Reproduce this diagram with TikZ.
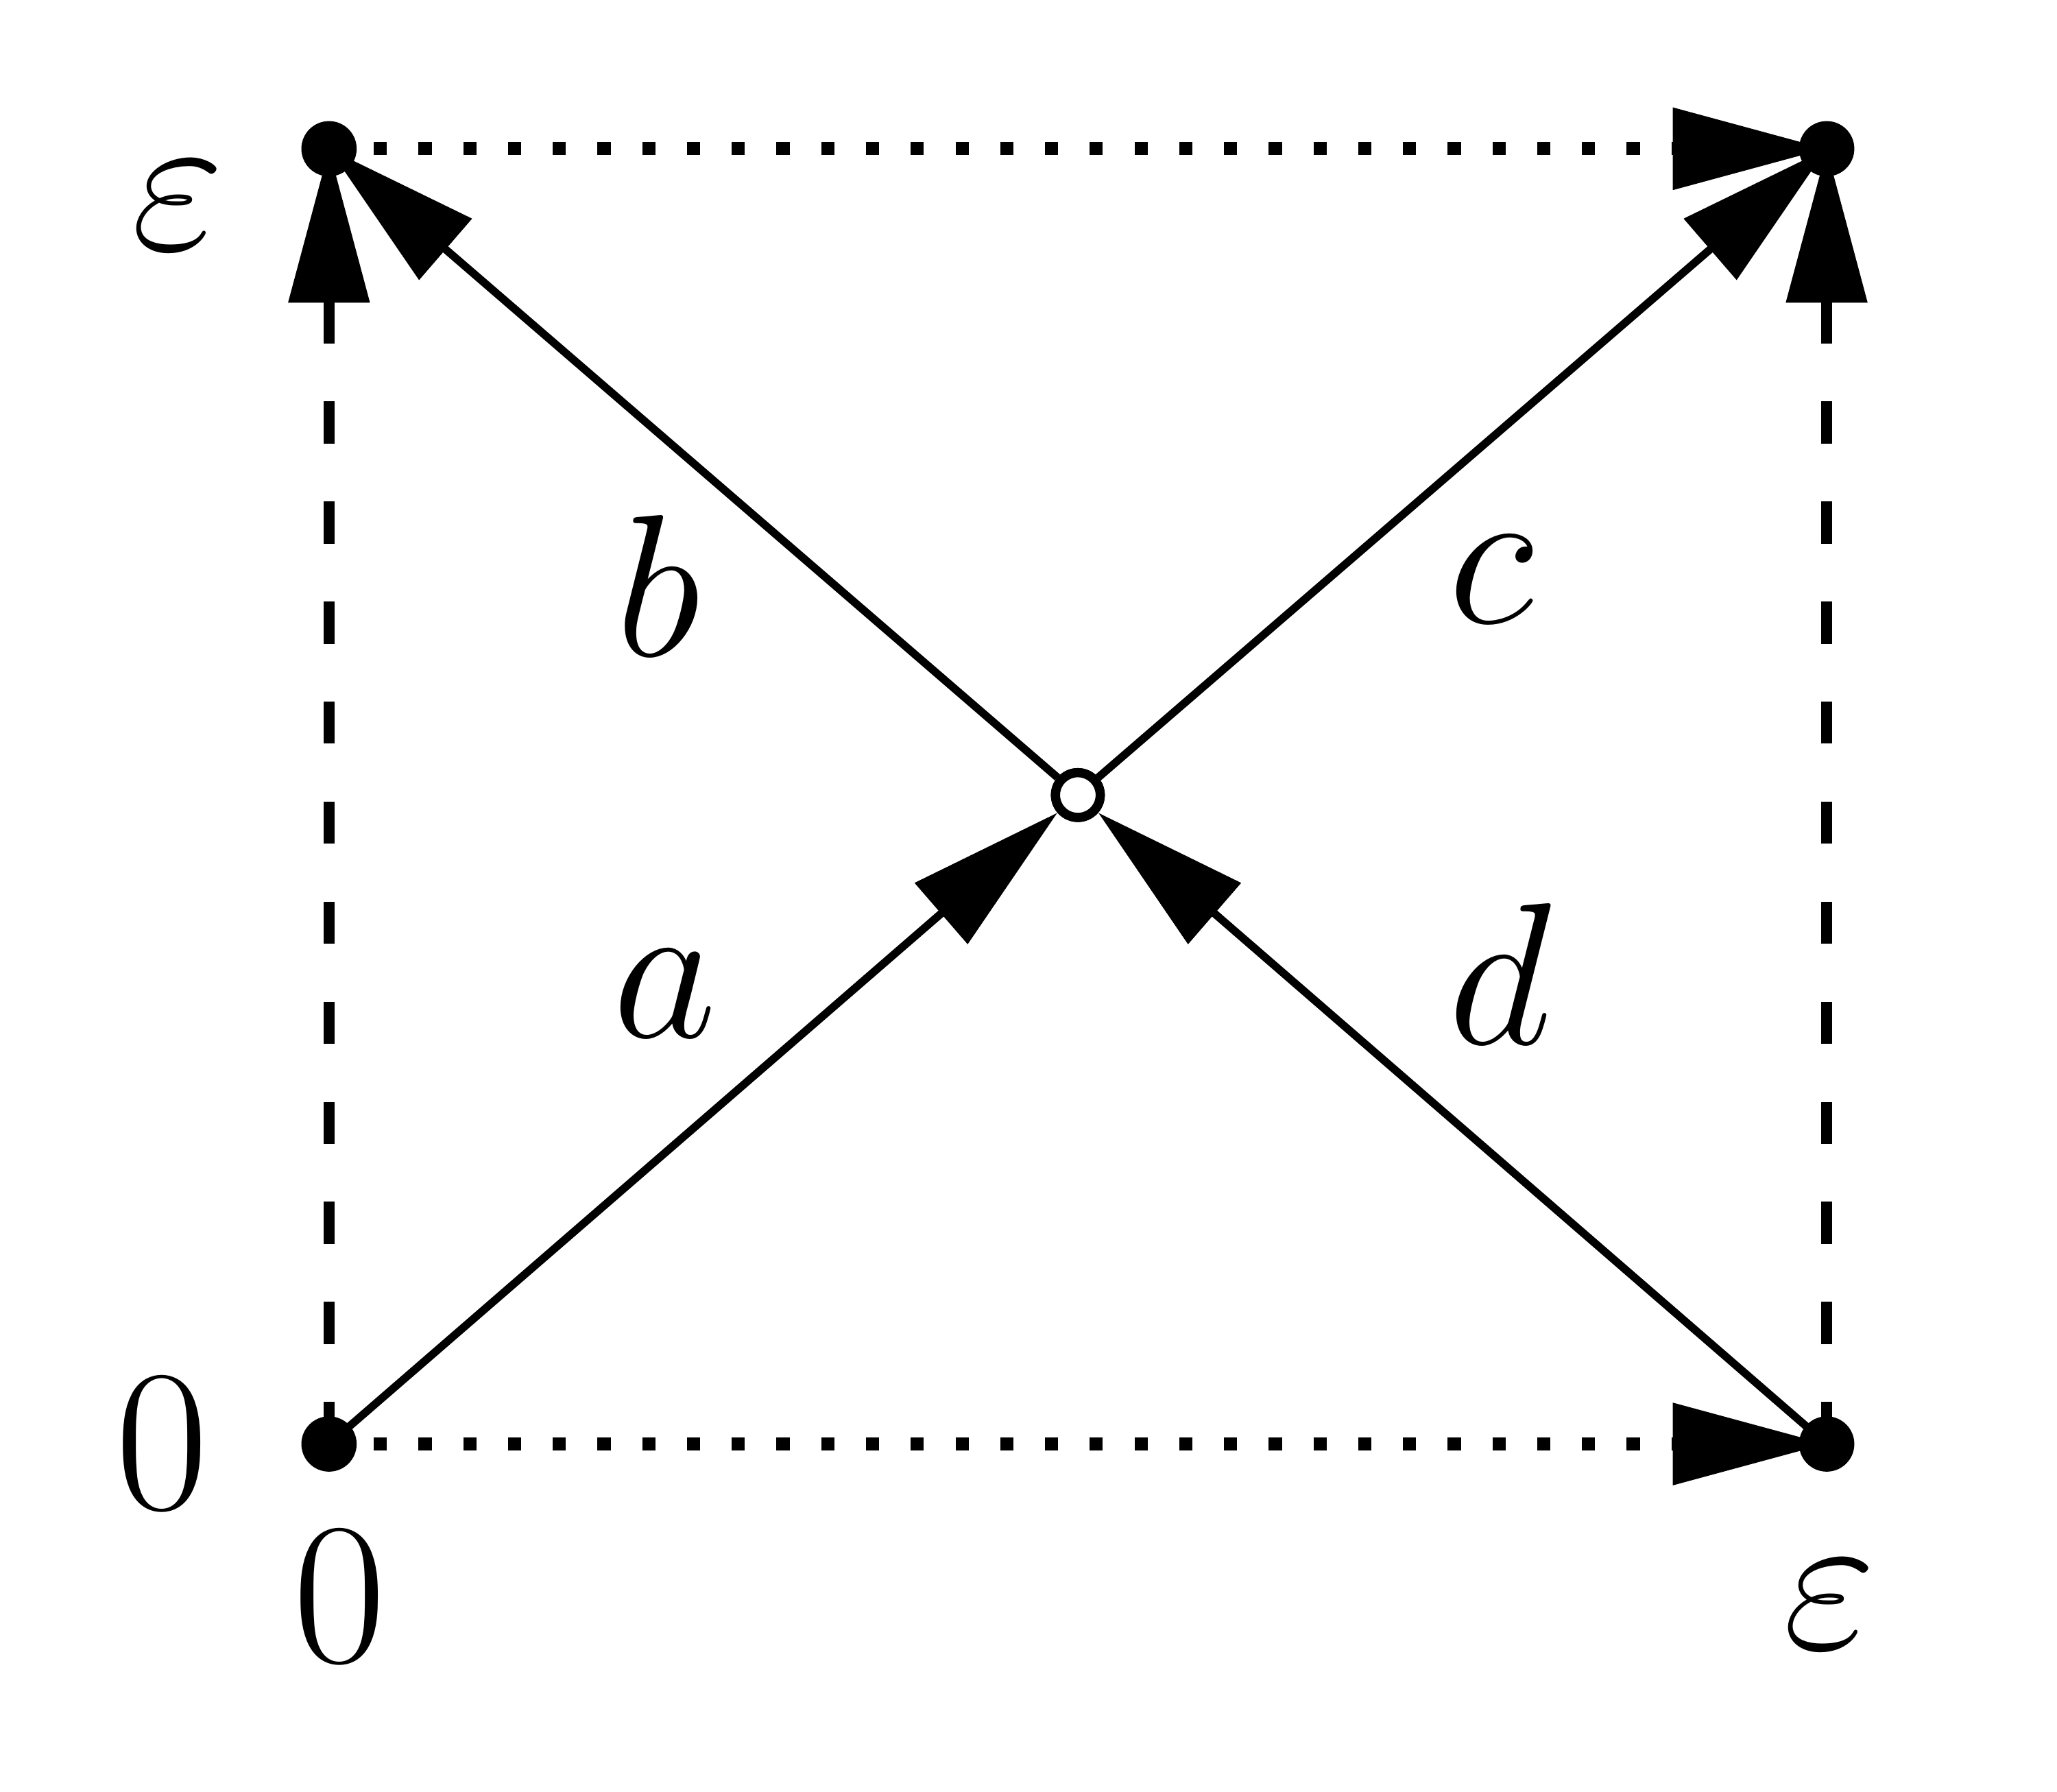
\documentclass[tikz,border=0pt]{standalone}
\usetikzlibrary{arrows.meta}
\begin{document}
\begin{tikzpicture}[
  big/.style={font=\Huge,scale=1.76},
  edge/.style={line width=0.06cm,-{Triangle[length=11.7mm,width=6mm]}},
  dsh/.style={edge,dash pattern=on 0.32cm off 0.44cm,line width=0.08cm},
  dtt/.style={edge,dash pattern=on 0.1cm off 0.24cm,line width=0.1cm},
  dot/.style={circle,fill,inner sep=0pt,minimum size=0.42cm}]
\useasboundingbox (0,0) rectangle (15.63,13.61);
\coordinate (TL) at (2.50,12.48);
\coordinate (TR) at (13.88,12.48);
\coordinate (BL) at (2.50,2.64);
\coordinate (BR) at (13.88,2.64);
\node[circle,draw,line width=0.07cm,fill=white,inner sep=0pt,minimum size=0.34cm] (C) at (8.19,7.57) {};
\draw[dsh] (BL) -- (TL);
\draw[dsh] (BR) -- (TR);
\draw[dtt] (TL) -- (TR);
\draw[dtt] (BL) -- (BR);
\draw[edge] (BL) -- (C);
\draw[edge] (BR) -- (C);
\draw[edge] (C) -- (TL);
\draw[edge] (C) -- (TR);
\node[circle,draw,line width=0.07cm,fill=white,inner sep=0pt,minimum size=0.34cm] at (C) {};
\node[dot] (dTL) at (TL) {};
\node[dot] (dTR) at (TR) {};
\node[dot] (dBL) at (BL) {};
\node[dot] (dBR) at (BR) {};
\node[big] (e1) at (1.35,12.05) {$\varepsilon$};
\node[big] (e2) at (13.90,1.42) {$\varepsilon$};
\node[big] (z1) at (1.23,2.64) {$0$};
\node[big] (z2) at (2.58,1.48) {$0$};
\node[big] (lb) at (5.00,9.16) {$b$};
\node[big] (lc) at (11.33,9.21) {$c$};
\node[big] (la) at (5.05,6.06) {$a$};
\node[big] (ld) at (11.40,6.21) {$d$};
\end{tikzpicture}
\end{document}
